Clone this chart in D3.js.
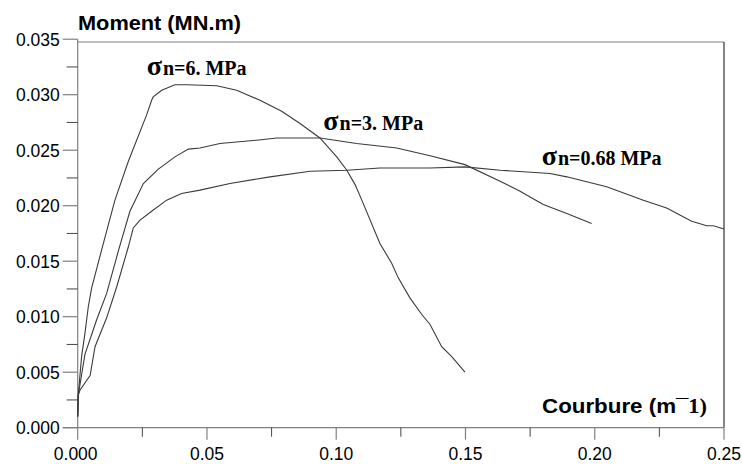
<!DOCTYPE html>
<html><head><meta charset="utf-8">
<script src="https://cdn.jsdelivr.net/npm/d3@7"></script>
<style>body{margin:0;background:#fff}svg{display:block}</style>
</head><body>
<svg id="c" width="742" height="464"></svg>
<script>
// ---- data ----
const xTicks = [0, 0.05, 0.10, 0.15, 0.20, 0.25];
const xTickLabels = ["0.000", "0.05", "0.10", "0.15", "0.20", "0.25"];
const xMinor = [0.025, 0.075, 0.125, 0.175, 0.225];
const yTicks = [0, 0.005, 0.010, 0.015, 0.020, 0.025, 0.030, 0.035];
const yTickLabels = ["0.000", "0.005", "0.010", "0.015", "0.020", "0.025", "0.030", "0.035"];
const yMinor = [0.0025, 0.0075, 0.0125, 0.0175, 0.0225, 0.0275, 0.0325];

const s6x = [0, 0.0002, 0.0015, 0.0028, 0.0041, 0.0054, 0.0106, 0.0144, 0.0196, 0.0267, 0.0286, 0.0292, 0.0325, 0.0376, 0.0422, 0.0538, 0.0615, 0.0705, 0.0789, 0.0860, 0.0937, 0.1002, 0.1041, 0.1073, 0.1099, 0.1169, 0.1215, 0.1240, 0.1285, 0.1331, 0.1363, 0.1408, 0.1447, 0.1498];
const s6y = [0.0010, 0.0029, 0.0064, 0.0085, 0.0109, 0.0126, 0.0172, 0.0205, 0.0240, 0.0282, 0.0295, 0.0298, 0.0304, 0.0309, 0.0309, 0.0308, 0.0304, 0.0295, 0.0285, 0.0274, 0.0261, 0.0244, 0.0232, 0.0219, 0.0205, 0.0166, 0.0148, 0.0135, 0.0117, 0.0102, 0.0093, 0.0073, 0.0064, 0.0050];

const s3x = [0, 0.0002, 0.0028, 0.0073, 0.0112, 0.0157, 0.0202, 0.0254, 0.0312, 0.0376, 0.0428, 0.0473, 0.0550, 0.0692, 0.0770, 0.0937, 0.1079, 0.1234, 0.1363, 0.1498, 0.1634, 0.1711, 0.1801, 0.1892, 0.1988];
const s3y = [0.0010, 0.0029, 0.0066, 0.0097, 0.0121, 0.0159, 0.0195, 0.0220, 0.0233, 0.0244, 0.0251, 0.0252, 0.0256, 0.0259, 0.0261, 0.0261, 0.0256, 0.0252, 0.0245, 0.0237, 0.0222, 0.0213, 0.0201, 0.0193, 0.0184];

const s068x = [0, 0.0002, 0.0009, 0.0048, 0.0067, 0.0112, 0.0151, 0.0196, 0.0215, 0.0241, 0.0286, 0.0344, 0.0402, 0.0473, 0.0589, 0.0744, 0.0899, 0.1041, 0.1169, 0.1363, 0.1498, 0.1634, 0.1827, 0.1892, 0.2046, 0.2188, 0.2278, 0.2375, 0.2433, 0.2459, 0.2500];
const s068y = [0.0010, 0.0029, 0.0034, 0.0047, 0.0073, 0.0099, 0.0127, 0.0163, 0.0180, 0.0187, 0.0195, 0.0205, 0.0211, 0.0214, 0.0220, 0.0226, 0.0231, 0.0232, 0.0234, 0.0234, 0.0235, 0.0232, 0.0229, 0.0226, 0.0217, 0.0205, 0.0198, 0.0186, 0.0182, 0.0182, 0.0179];

const seriesLabels = ["n=6. MPa", "n=3. MPa", "n=0.68 MPa"];
const labelX = [0.0267, 0.0950, 0.1795];
const labelY = [0.0318, 0.0268, 0.0237];

// ---- chart ----
const svg = d3.select("#c");
const x = d3.scaleLinear().domain([0, 0.25]).range([77.7, 724]);
const y = d3.scaleLinear().domain([0, 0.035]).range([427.7, 39.2]);

const sans = "Arial, 'Liberation Sans', sans-serif";
const serif = "'Times New Roman', 'Liberation Serif', serif";

// frame (top & right)
svg.append("line").attr("x1", x(0)).attr("x2", x(0.25)).attr("y1", 42).attr("y2", 42)
  .attr("stroke", "#808080").attr("stroke-width", 1.2);
svg.append("line").attr("x1", x(0.25)).attr("x2", x(0.25)).attr("y1", 42).attr("y2", y(0))
  .attr("stroke", "#333").attr("stroke-width", 1.2);

// y axis
const gy = svg.append("g").attr("transform", `translate(${x(0)},0)`);
gy.append("line").attr("x1", 0).attr("x2", 0).attr("y1", y(0.035)).attr("y2", y(0)).attr("stroke", "#808080").attr("stroke-width", 1.2);
gy.selectAll(".ymaj").data(yTicks).join("line").attr("x1", -15).attr("x2", 0)
  .attr("y1", d => y(d)).attr("y2", d => y(d)).attr("stroke", "#808080").attr("stroke-width", 1.2);
gy.selectAll(".ymin").data(yMinor).join("line").attr("x1", -11).attr("x2", 0)
  .attr("y1", d => y(d)).attr("y2", d => y(d)).attr("stroke", "#444").attr("stroke-width", 1);
gy.selectAll(".ylab").data(yTicks).join("text").attr("x", -18).attr("y", d => y(d))
  .attr("dy", "0.36em").attr("text-anchor", "end").attr("font-family", sans).attr("font-size", 17.5)
  .attr("fill", "#000").text((d, i) => yTickLabels[i]);

// x axis
const gx = svg.append("g").attr("transform", `translate(0,${y(0)})`);
gx.append("line").attr("x1", x(0) - 15).attr("x2", x(0.25)).attr("y1", 0).attr("y2", 0).attr("stroke", "#808080").attr("stroke-width", 1.2);
gx.selectAll(".xmaj").data(xTicks).join("line").attr("y1", 0).attr("y2", 12)
  .attr("x1", d => x(d)).attr("x2", d => x(d)).attr("stroke", "#808080").attr("stroke-width", 1.2);
gx.selectAll(".xmin").data(xMinor).join("line").attr("y1", 0).attr("y2", 9)
  .attr("x1", d => x(d)).attr("x2", d => x(d)).attr("stroke", "#444").attr("stroke-width", 1);
gx.selectAll(".xlab").data(xTicks).join("text").attr("x", (d, i) => x(d) - (i === 0 ? 2 : 0)).attr("y", 32)
  .attr("text-anchor", "middle").attr("font-family", sans).attr("font-size", 17.5)
  .attr("fill", "#000").text((d, i) => xTickLabels[i]);

// axis titles
svg.append("text").attr("x", 78).attr("y", 30).attr("font-family", sans).attr("font-size", 20)
  .attr("font-weight", "bold").attr("textLength", 163).attr("lengthAdjust", "spacingAndGlyphs")
  .text("Moment (MN.m)");
const ct = svg.append("text").attr("x", 542).attr("y", 413).attr("font-family", sans).attr("font-size", 20)
  .attr("font-weight", "bold").attr("textLength", 165).attr("lengthAdjust", "spacingAndGlyphs");
ct.append("tspan").text("Courbure (m");
ct.append("tspan").text("¯");
ct.append("tspan").attr("font-family", serif).text("1)");

// curves
const line = d3.line().x(d => x(d[0])).y(d => y(d[1]));
const series = [[s6x, s6y], [s3x, s3y], [s068x, s068y]];
svg.selectAll(".curve").data(series).join("path")
  .attr("d", s => line(d3.zip(s[0], s[1])))
  .attr("fill", "none").attr("stroke", "#3a3a3a").attr("stroke-width", 1.1);

// series labels
seriesLabels.forEach((lab, i) => {
  const t = svg.append("text").attr("x", x(labelX[i])).attr("y", y(labelY[i]))
    .attr("font-family", serif).attr("font-weight", "bold").attr("fill", "#000");
  t.append("tspan").attr("font-size", 28).text("σ");
  t.append("tspan").attr("font-size", 20).attr("dx", 1).text(lab);
});
</script>
</body></html>
